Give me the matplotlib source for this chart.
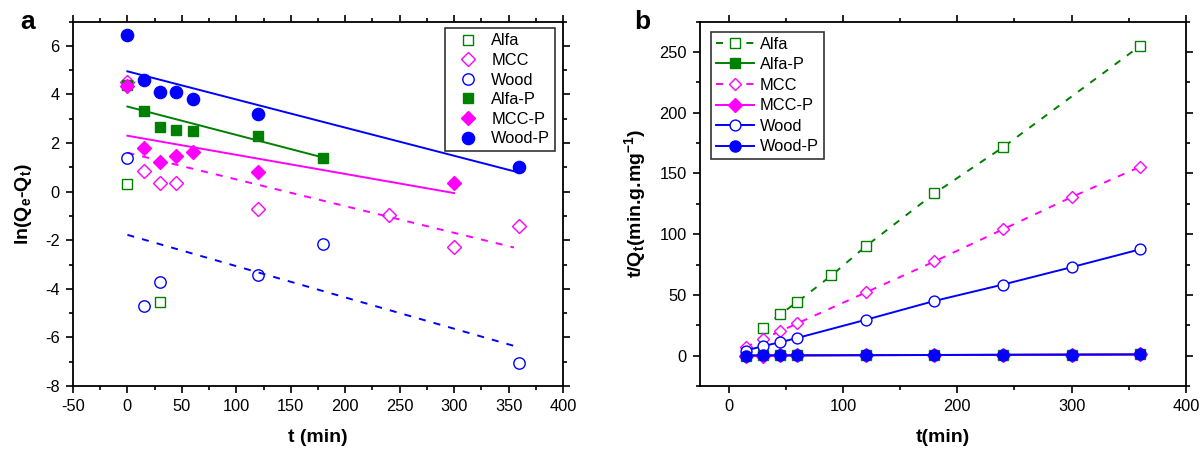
import matplotlib
matplotlib.use("Agg")
import matplotlib.pyplot as plt
from matplotlib.ticker import MultipleLocator

plt.rcParams['font.family'] = ['Liberation Sans', 'DejaVu Sans']
plt.rcParams['axes.unicode_minus'] = False
plt.rcParams['mathtext.fontset'] = 'custom'
plt.rcParams['mathtext.rm'] = 'Liberation Sans:bold'
plt.rcParams['mathtext.it'] = 'Liberation Sans:bold'
plt.rcParams['mathtext.bf'] = 'Liberation Sans:bold'

GREEN = '#008000'
MAG = '#ff00ff'
BLUE = '#0000ff'

# ---- panel a: pseudo-first-order, ln(Qe-Qt) vs t
alfa_t = [0, 30]
alfa_y = [0.3, -4.55]
mcc_t = [0, 15, 30, 45, 120, 240, 300, 360]
mcc_y = [4.5, 0.85, 0.35, 0.35, -0.7, -0.95, -2.3, -1.4]
wood_t = [0, 15, 30, 120, 180, 360]
wood_y = [1.4, -4.7, -3.7, -3.45, -2.15, -7.05]
alfap_t = [0, 15, 30, 45, 60, 120, 180]
alfap_y = [4.4, 3.3, 2.65, 2.55, 2.5, 2.3, 1.4]
mccp_t = [0, 15, 30, 45, 60, 120, 300]
mccp_y = [4.35, 1.8, 1.2, 1.45, 1.65, 0.8, 0.35]
woodp_t = [0, 15, 30, 45, 60, 120, 360]
woodp_y = [6.45, 4.6, 4.1, 4.1, 3.8, 3.2, 1.0]

# fitted lines (end points)
fit_woodp_t, fit_woodp_y = [0, 360], [4.95, 0.78]
fit_alfap_t, fit_alfap_y = [0, 180], [3.5, 1.4]
fit_mccp_t, fit_mccp_y = [0, 300], [2.3, -0.06]
fit_mcc_t, fit_mcc_y = [0, 355], [1.6, -2.3]
fit_wood_t, fit_wood_y = [0, 355], [-1.78, -6.35]

# ---- panel b: pseudo-second-order, t/Qt vs t
b_alfa_t = [30, 45, 60, 90, 120, 180, 240, 360]
b_alfa_y = [22.5, 34, 44, 66, 90, 133.5, 171.5, 255]
b_t = [15, 30, 45, 60, 120, 180, 240, 300, 360]
b_mcc_y = [6.9, 13.8, 20, 26.5, 52, 77.5, 104, 130.5, 155.5]
b_wood_y = [4.2, 7.8, 11, 14.5, 29.5, 45, 58.5, 72.8, 87.5]
b_alfap_y = [0.1, 0.15, 0.2, 0.25, 0.4, 0.55, 0.7, 0.85, 1.0]
b_mccp_y = [0.05, 0.1, 0.15, 0.2, 0.35, 0.5, 0.65, 0.8, 0.95]
b_woodp_y = [0.08, 0.12, 0.18, 0.22, 0.38, 0.52, 0.68, 0.82, 0.98]

fig = plt.figure(figsize=(12.04, 4.49), dpi=100)
ax1 = fig.add_axes([0.0606, 0.1403, 0.4070, 0.8118])
ax2 = fig.add_axes([0.5814, 0.1403, 0.4036, 0.8118])

dash = (0, (3.6, 4.2))
lw = 1.4
fs = 11.8

# panel a
ax1.plot(fit_woodp_t, fit_woodp_y, color=BLUE, lw=lw)
ax1.plot(fit_alfap_t, fit_alfap_y, color=GREEN, lw=lw)
ax1.plot(fit_mccp_t, fit_mccp_y, color=MAG, lw=lw)
ax1.plot(fit_mcc_t, fit_mcc_y, color=MAG, lw=lw, ls=dash)
ax1.plot(fit_wood_t, fit_wood_y, color=BLUE, lw=lw, ls=dash)

ax1.plot(alfa_t, alfa_y, 's', ms=7.2, mfc='white', mec=GREEN, mew=1, label='Alfa')
ax1.plot(mcc_t, mcc_y, 'D', ms=7.3, mfc='none', mec=MAG, mew=1, label='MCC')
ax1.plot(wood_t, wood_y, 'o', ms=8.2, mfc='none', mec=BLUE, mew=1, label='Wood')
ax1.plot(alfap_t, alfap_y, 's', ms=7.4, color=GREEN, label='Alfa-P')
ax1.plot(mccp_t, mccp_y, 'D', ms=7.5, color=MAG, label='MCC-P')
ax1.plot(woodp_t, woodp_y, 'o', ms=8.8, color=BLUE, label='Wood-P')

ax1.set_xlim(-50, 400)
ax1.set_ylim(-8, 7)
ax1.xaxis.set_major_locator(MultipleLocator(50))
ax1.xaxis.set_minor_locator(MultipleLocator(25))
ax1.yaxis.set_major_locator(MultipleLocator(2))
ax1.yaxis.set_minor_locator(MultipleLocator(1))
ax1.set_yticks([-8, -6, -4, -2, 0, 2, 4, 6])
ax1.set_xlabel('t (min)', fontsize=14, fontweight='bold', labelpad=11)
ax1.set_ylabel('ln(Q$_e$-Q$_t$)', fontsize=14, fontweight='bold', labelpad=8)
leg1 = ax1.legend(loc='upper right', bbox_to_anchor=(0.984, 0.981), fontsize=fs,
                  frameon=True, fancybox=False, edgecolor='#333333', framealpha=1,
                  borderaxespad=0, handletextpad=0.25, borderpad=0.3,
                  labelspacing=0.28, handlelength=2.3)
leg1.get_frame().set_linewidth(1.2)

# panel b
ax2.plot(b_alfa_t, b_alfa_y, 's', ls=dash, color=GREEN, lw=lw, ms=7.2, mfc='white', mec=GREEN, mew=1, label='Alfa')
ax2.plot(b_t, b_alfap_y, 's', ls='-', color=GREEN, lw=lw, ms=7.2, label='Alfa-P')
ax2.plot(b_t, b_mcc_y, 'D', ls=dash, color=MAG, lw=lw, ms=6.5, mfc='white', mec=MAG, mew=1, label='MCC')
ax2.plot(b_t, b_mccp_y, 'D', ls='-', color=MAG, lw=lw, ms=6.8, label='MCC-P')
ax2.plot(b_t, b_wood_y, 'o', ls='-', color=BLUE, lw=lw, ms=7.8, mfc='white', mec=BLUE, mew=1, label='Wood')
ax2.plot(b_t, b_woodp_y, 'o', ls='-', color=BLUE, lw=lw, ms=8.0, label='Wood-P')

ax2.set_xlim(-25, 400)
ax2.set_ylim(-25, 275)
ax2.xaxis.set_major_locator(MultipleLocator(100))
ax2.xaxis.set_minor_locator(MultipleLocator(50))
ax2.yaxis.set_major_locator(MultipleLocator(50))
ax2.yaxis.set_minor_locator(MultipleLocator(25))
ax2.set_xticks([0, 100, 200, 300, 400])
ax2.set_yticks([0, 50, 100, 150, 200, 250])
ax2.set_xlabel('t(min)', fontsize=14, fontweight='bold', labelpad=11)
ax2.set_ylabel('t/Q$_t$(min.g.mg$^{-1}$)', fontsize=14, fontweight='bold', labelpad=8)
leg2 = ax2.legend(loc='upper left', bbox_to_anchor=(0.022, 0.972), fontsize=fs,
                  frameon=True, fancybox=False, edgecolor='#333333', framealpha=1,
                  borderaxespad=0, handletextpad=0.35, borderpad=0.3,
                  labelspacing=0.34, handlelength=2.35)
leg2.get_frame().set_linewidth(1.2)

for ax in (ax1, ax2):
    for s in ax.spines.values():
        s.set_linewidth(1.3)
    ax.tick_params(which='both', direction='out', top=True, right=True,
                   labelsize=fs, width=1.2, pad=4.5)
    ax.tick_params(which='major', length=5)
    ax.tick_params(which='minor', length=3)

fig.text(0.0166, 0.935, 'a', fontsize=19, fontweight='bold', va='baseline')
fig.text(0.527, 0.935, 'b', fontsize=19, fontweight='bold', va='baseline')

fig.savefig('out.png', dpi=100)
